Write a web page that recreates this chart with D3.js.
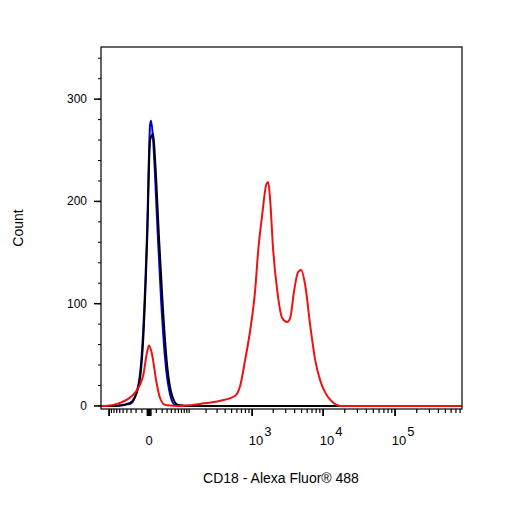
<!DOCTYPE html>
<html><head><meta charset="utf-8">
<script src="https://cdn.jsdelivr.net/npm/d3@7"></script>
<style>body{margin:0;background:#fff}text{font-family:"Liberation Sans",Arial,sans-serif}</style>
</head><body><svg id="chart" width="506" height="506"></svg>
<script>
// fluorescence (channel value) vs count, per sample
const redX = [-141, -119, -59, -22, -8, -2.5, 0, 3.9, 9.7, 16, 26, 65, 159, 335, 565, 672, 792, 938, 1105, 1223, 1395, 1588, 1698, 1810, 1998, 2277, 2675, 3146, 3466, 3940, 4480, 4940, 5630, 6600, 7750, 9100, 10700, 13400, 17300, 850000];
const redY = [0, 0, 3, 13, 30, 53, 59, 50, 25, 8, 1, 0, 2, 5, 10, 20, 45, 74, 113, 152, 187, 216, 219, 201, 152, 113, 86, 82, 86, 113, 131, 133, 118, 79, 45, 25, 13, 4, 0, 0];
const blueX = [-141, -76, -32, -16, -8, -2.5, 1.25, 2.5, 5.3, 11.3, 18, 26, 37, 50, 83, 850000];
const blueY = [0, 0, 2, 20, 74, 172, 275, 279, 260, 181, 104, 45, 11, 1, 0, 0];
const blackX = [-141, -76, -32, -16, -8, -2.5, 1.25, 5.3, 8.2, 14.6, 21.6, 30, 42, 59, 105, 850000];
const blackY = [0, 0, 3, 18, 65, 162, 260, 266, 240, 162, 94, 40, 10, 1, 0, 0];
const yTicks = [0, 100, 200, 300];
const xMajor = [-100, 0, 1000, 10000, 100000];
const xLabels = [{v: 0, t: "0"}, {v: 1000, e: "3"}, {v: 10000, e: "4"}, {v: 100000, e: "5"}];

const svg = d3.select("#chart");
const m = {left: 101, right: 462, top: 47, bottom: 409};

const x = d3.scaleSymlog().constant(38.6).domain([-141, 850000]).range([m.left, m.right]);
const y = d3.scaleLinear().domain([-3, 351]).range([m.bottom, m.top]);

// minor ticks
let xMinor = [];
for (let k = 10; k < 100; k += 10) xMinor.push(k, -k);
for (let d = 100; d <= 100000; d *= 10)
  for (let j = 2; j < 10; j++) if (d * j < 850000) xMinor.push(d * j);
xMinor.push(100);

const g = svg.append("g");
g.selectAll(".xmin").data(xMinor).join("line")
  .attr("x1", d => x(d)).attr("x2", d => x(d))
  .attr("y1", m.bottom).attr("y2", m.bottom + 4)
  .attr("stroke", "#000").attr("stroke-width", 1.2);
g.selectAll(".xmaj").data(xMajor).join("line")
  .attr("x1", d => x(d)).attr("x2", d => x(d))
  .attr("y1", m.bottom).attr("y2", m.bottom + 7)
  .attr("stroke", "#000").attr("stroke-width", d => d === 0 ? 5 : 1.8);

g.selectAll(".ymaj").data(yTicks).join("line")
  .attr("x1", m.left - 7).attr("x2", m.left)
  .attr("y1", d => y(d)).attr("y2", d => y(d))
  .attr("stroke", "#000").attr("stroke-width", 1.5);
g.selectAll(".ymin").data(d3.range(0, 351, 20)).join("line")
  .attr("x1", m.left - 3).attr("x2", m.left)
  .attr("y1", d => y(d)).attr("y2", d => y(d))
  .attr("stroke", "#000");
g.selectAll(".ylab").data(yTicks).join("text")
  .attr("x", m.left - 14).attr("y", d => y(d) + 4)
  .attr("text-anchor", "end").attr("font-size", 12).text(d => d);

// x labels
xLabels.forEach(l => {
  const t = g.append("text").attr("x", x(l.v) + (l.e ? 8 : 0)).attr("y", m.bottom + 36)
    .attr("text-anchor", "middle").attr("font-size", 13);
  if (l.e) {
    t.append("tspan").text("10");
    t.append("tspan").attr("dy", -9).attr("dx", 1).text(l.e);
  } else t.text(l.t);
});

const line = d3.line().x(d => x(d[0])).y(d => y(d[1])).curve(d3.curveMonotoneX);
const series = [[blueX, blueY, "#0000e0"], [blackX, blackY, "#000"], [redX, redY, "#ee1111"]];
series.forEach(([xs, ys, c]) => {
  svg.append("path").datum(d3.zip(xs, ys)).attr("d", line)
    .attr("fill", "none").attr("stroke", c).attr("stroke-width", 2);
});

svg.append("rect").attr("x", m.left).attr("y", m.top)
  .attr("width", m.right - m.left).attr("height", m.bottom - m.top)
  .attr("fill", "none").attr("stroke", "#000").attr("stroke-width", 1.2);

svg.append("text").attr("transform", `translate(23,${(m.top + m.bottom) / 2}) rotate(-90)`)
  .attr("text-anchor", "middle").attr("font-size", 14).text("Count");
svg.append("text").attr("x", 281).attr("y", 483)
  .attr("text-anchor", "middle").attr("font-size", 14).text("CD18 - Alexa Fluor® 488");
</script></body></html>
